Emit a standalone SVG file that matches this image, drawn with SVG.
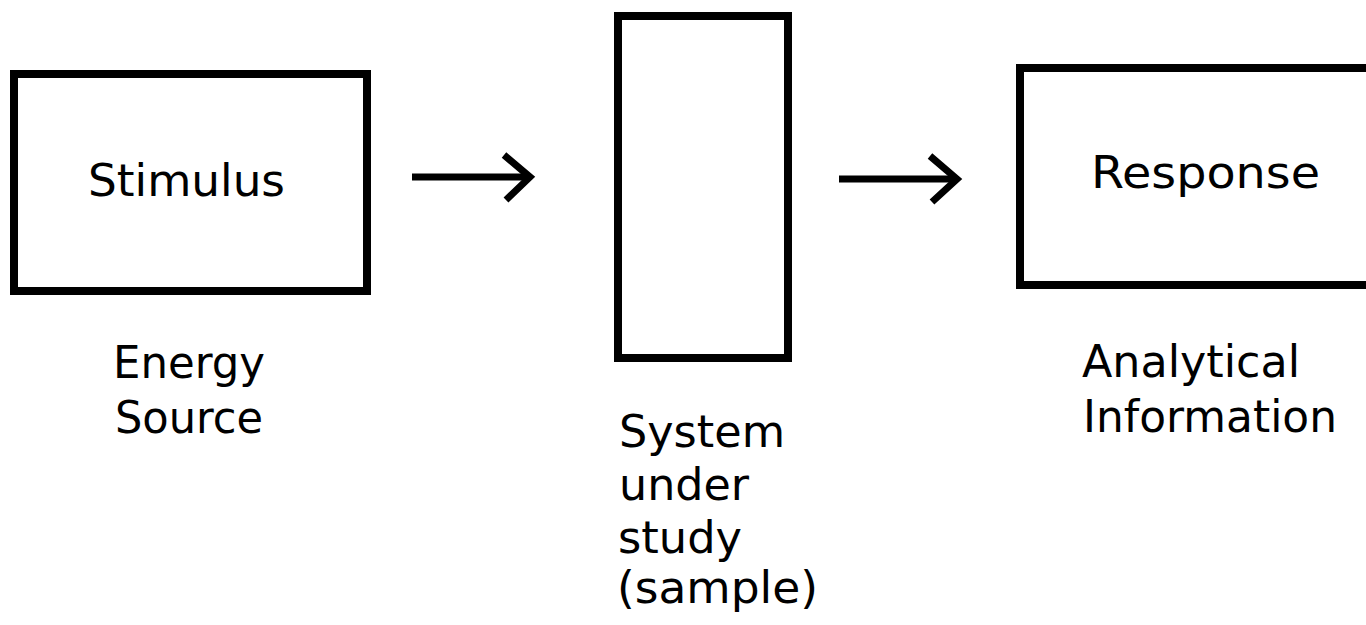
<svg xmlns="http://www.w3.org/2000/svg" width="1366" height="625" viewBox="0 0 1366 625">
<style>
.box{fill:#fff;stroke:#000;stroke-width:8}
.t{font-family:"DejaVu Sans","Liberation Sans",Arial,sans-serif;font-size:45px;fill:#000}
.c{stroke:#000;stroke-width:7;fill:none;stroke-linecap:butt}
</style>
<rect width="1366" height="625" fill="#fff"/>
<g id="stimulus">
<rect class="box" x="14" y="74" width="353" height="217"/>
<text class="t" x="88" y="196" textLength="197" lengthAdjust="spacingAndGlyphs">Stimulus</text>
<text class="t" x="113" y="378" textLength="152" lengthAdjust="spacingAndGlyphs">Energy</text>
<text class="t" x="115" y="433" textLength="148" lengthAdjust="spacingAndGlyphs">Source</text>
</g>
<g id="system">
<rect class="box" x="618" y="16" width="170" height="342"/>
<text class="t" x="619" y="447" textLength="166" lengthAdjust="spacingAndGlyphs">System</text>
<text class="t" x="619" y="500" textLength="130" lengthAdjust="spacingAndGlyphs">under</text>
<text class="t" x="618" y="553" textLength="124" lengthAdjust="spacingAndGlyphs">study</text>
<text class="t" x="617" y="603" textLength="201" lengthAdjust="spacingAndGlyphs">(sample)</text>
</g>
<g id="response">
<rect class="box" x="1020" y="68" width="400" height="217"/>
<text class="t" x="1091" y="188" textLength="229" lengthAdjust="spacingAndGlyphs">Response</text>
<text class="t" x="1082" y="377" textLength="218" lengthAdjust="spacingAndGlyphs">Analytical</text>
<text class="t" x="1083" y="432" textLength="254" lengthAdjust="spacingAndGlyphs">Information</text>
</g>
<g id="connectors">
<line class="c" x1="412" y1="177" x2="530" y2="177"/>
<polyline class="c" points="504,155 530,177 506,200"/>
<line class="c" x1="839" y1="179" x2="957" y2="179"/>
<polyline class="c" points="930,156 957,179 932,202"/>
</g>
</svg>
